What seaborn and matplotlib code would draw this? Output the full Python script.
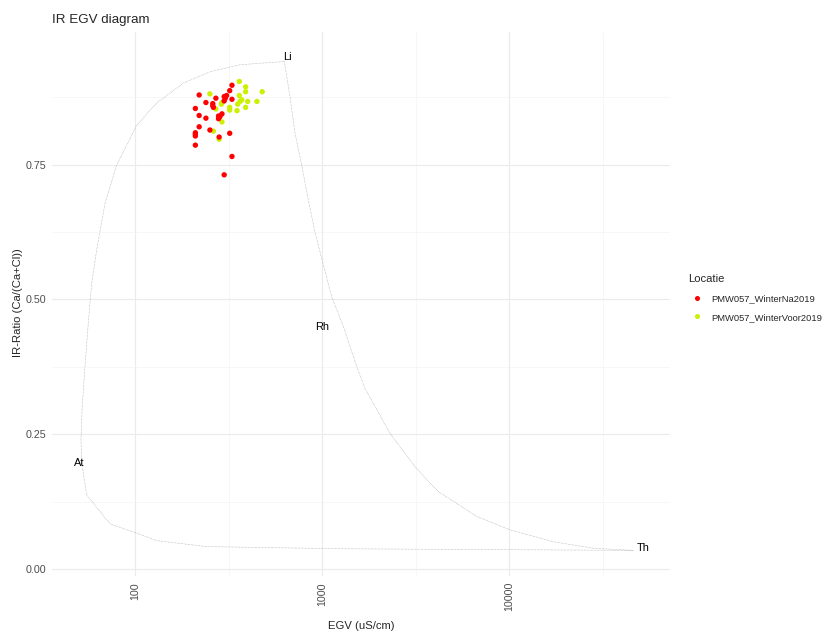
import numpy as np
import pandas as pd
import matplotlib
matplotlib.use("Agg")
import matplotlib.pyplot as plt
from matplotlib.lines import Line2D
from matplotlib.ticker import NullFormatter
import seaborn as sns

# --- measurements per sampling round -------------------------------------
na_egv = [219, 209, 219, 238, 238, 219, 209, 209, 209, 209, 250, 259, 259, 261, 269,
          278, 278, 283, 290, 280, 298, 298, 307, 302, 319, 328, 328, 319, 328, 298]
na_ir = [0.879, 0.854, 0.841, 0.865, 0.836, 0.820, 0.809, 0.806, 0.803, 0.786, 0.814,
         0.863, 0.859, 0.856, 0.873, 0.840, 0.835, 0.839, 0.844, 0.801, 0.868, 0.876,
         0.878, 0.873, 0.887, 0.897, 0.871, 0.808, 0.765, 0.731]

voor_egv = [250, 359, 388, 388, 476, 359, 370, 362, 352, 398, 446, 388, 349, 319, 319,
            290, 288, 269, 290, 261, 280]
voor_ir = [0.881, 0.904, 0.894, 0.885, 0.885, 0.878, 0.870, 0.867, 0.862, 0.867, 0.867,
           0.856, 0.850, 0.856, 0.851, 0.865, 0.862, 0.853, 0.829, 0.812, 0.797]

locaties = ["PMW057_WinterNa2019", "PMW057_WinterVoor2019"]
kleuren = ["#FF0000", "#CCF000"]

# --- reference envelope: Li -> Th -> At -> Li -------------------------------
env_egv = [625, 670, 713, 774, 840, 912, 990, 1120, 1292, 1524, 1688, 2296, 3124, 4162,
           6676, 10063, 17150, 28060, 45920,
           3913, 1240, 362, 240, 130, 101.5, 73.1, 54.8, 51.6,
           51.1, 51.9, 53.7, 55.9, 58.3, 62.0, 68.7, 79.3, 101.5, 129.9, 180.3, 250.2,
           362, 625]
env_ir = [0.941, 0.876, 0.808, 0.749, 0.684, 0.625, 0.576, 0.505, 0.450, 0.376, 0.335,
          0.252, 0.190, 0.144, 0.098, 0.073, 0.051, 0.039, 0.035,
          0.037, 0.038, 0.041, 0.042, 0.053, 0.067, 0.084, 0.138, 0.196,
          0.240, 0.301, 0.376, 0.456, 0.530, 0.592, 0.678, 0.749, 0.823, 0.864, 0.901,
          0.922, 0.935, 0.941]

ref_labels = ["Li", "Rh", "Th", "At"]
ref_egv = [648, 990, 51560, 50.3]
ref_ir = [0.949, 0.4485, 0.039, 0.1976]

# --- tables ---------------------------------------------------------------
df = pd.DataFrame({
    "EGV": voor_egv + na_egv,
    "IR": voor_ir + na_ir,
    "Locatie": [locaties[1]] * len(voor_egv) + [locaties[0]] * len(na_egv),
})
env = pd.DataFrame({"EGV": env_egv, "IR": env_ir, "step": np.arange(len(env_egv))})

# --- figure ---------------------------------------------------------------
sns.set_style("white")
plt.rcParams["font.family"] = ["Liberation Sans", "DejaVu Sans"]

W, H = 822, 635
fig = plt.figure(figsize=(W / 100, H / 100), dpi=100)
px = 0.72  # pixels -> points at 100 dpi

left, right, top, bottom = 52, 670, 32, 576
ax = fig.add_axes([left / W, (H - bottom) / H, (right - left) / W, (bottom - top) / H])

ax.set_xscale("log")
ax.set_xlim(10 ** 1.5535, 10 ** 4.8583)
ax.set_ylim(-0.0125, 0.9957)

ax.set_xticks([100, 1000, 10000])
ax.set_xticks([10 ** 2.5, 10 ** 3.5, 10 ** 4.5], minor=True)
ax.xaxis.set_minor_formatter(NullFormatter())
ax.set_xticklabels(["100", "1000", "10000"], rotation=90)
ax.set_yticks([0, 0.25, 0.5, 0.75])
ax.set_yticks([0.125, 0.375, 0.625, 0.875], minor=True)
ax.set_yticklabels(["0.00", "0.25", "0.50", "0.75"])

ax.grid(which="major", color="#EBEBEB", linewidth=1.1 * px)
ax.grid(which="minor", color="#F3F3F3", linewidth=0.6 * px)
ax.set_axisbelow(True)
for s in ax.spines.values():
    s.set_visible(False)
ax.tick_params(which="major", length=3 * px, width=0.9 * px, color="#333333",
               labelsize=10.6 * px, labelcolor="#4D4D4D", pad=3 * px)
ax.tick_params(which="minor", length=0)

sns.lineplot(data=env, x="EGV", y="IR", sort=False, estimator=None, ax=ax,
             color="#8A8A8A", linewidth=0.55 * px, linestyle=(0, (1, 1.6)), legend=False)

sns.scatterplot(data=df, x="EGV", y="IR", hue="Locatie", hue_order=locaties,
                palette=dict(zip(locaties, kleuren)), s=15, linewidth=0, ax=ax,
                legend=False)

for lab, xv, yv in zip(ref_labels, ref_egv, ref_ir):
    ax.text(xv, yv, lab, ha="center", va="center", fontsize=11 * px, color="black")

ax.set_xlabel("")
ax.set_ylabel("")

fig.text(361 / W, 1 - 626 / H, "EGV (uS/cm)", ha="center", va="center",
         fontsize=11.2 * px)
fig.text(18.3 / W, 1 - 303 / H, "IR-Ratio (Ca/(Ca+Cl))", ha="center", va="center",
         rotation=90, fontsize=11.2 * px)
fig.text(left / W, 1 - 22.5 / H, "IR EGV diagram", ha="left", va="baseline",
         fontsize=13.4 * px)

handles = [Line2D([], [], marker="o", linestyle="", markersize=3.6 * px,
                  markerfacecolor=c, markeredgecolor=c) for c in kleuren]
leg = fig.legend(handles, locaties, title="Locatie", loc="upper left",
                 bbox_to_anchor=(688 / W, 1 - 274 / H), frameon=False,
                 fontsize=9.4 * px, title_fontsize=11.2 * px, handlelength=1.95,
                 handletextpad=0.5, labelspacing=1.05, borderpad=0, borderaxespad=0,
                 alignment="left")

fig.savefig("out.png", dpi=100)
